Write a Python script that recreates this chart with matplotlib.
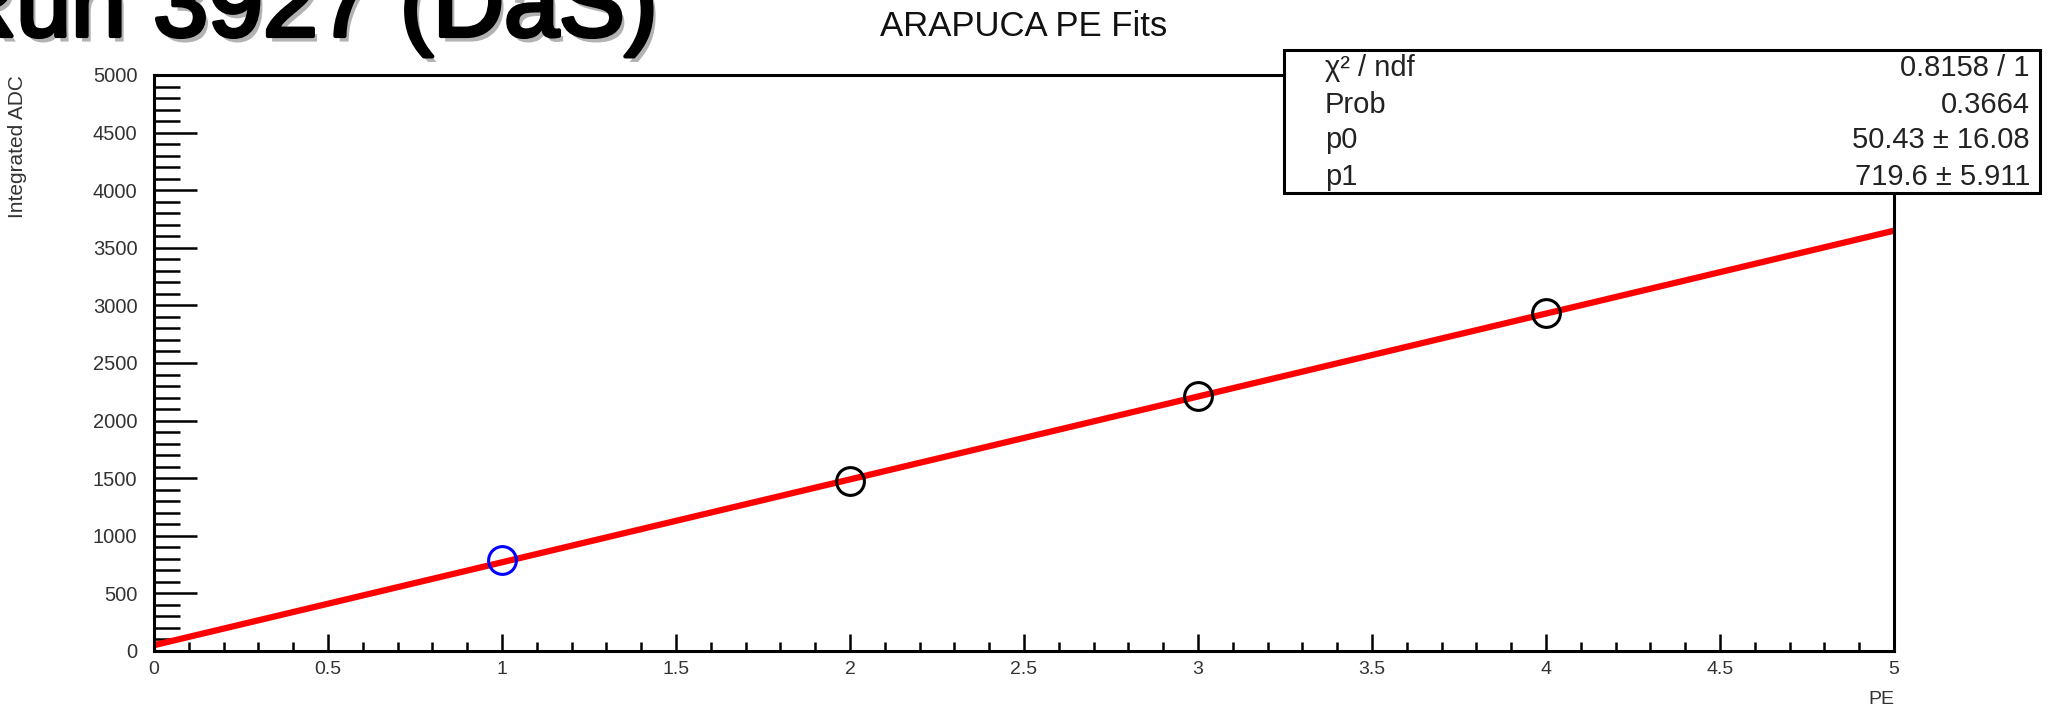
import numpy as np
import matplotlib
matplotlib.use("Agg")
import matplotlib.pyplot as plt
import matplotlib.patheffects as pe
from matplotlib.ticker import MultipleLocator

plt.rcParams["font.family"] = ["Liberation Sans", "DejaVu Sans"]

# data
pe_vals = [1, 2, 3, 4]
adc_vals = [790, 1480, 2210, 2930]
point_colors = ["blue", "black", "black", "black"]

# fit parameters from the stats box
p0 = 50.43
p1 = 719.6
stat_names = ["χ² / ndf", "Prob", "p0", "p1"]
stat_values = ["0.8158 / 1", "0.3664", "50.43 ± 16.08", "719.6 ± 5.911"]

W, H = 2063, 709
fig = plt.figure(figsize=(W / 100, H / 100), dpi=100)

# axes placement in pixels
left, right, top, bottom = 154, 1894, 75, 651
ax = fig.add_axes([left / W, 1 - bottom / H, (right - left) / W, (bottom - top) / H])

# fit line
fx = np.array([0.0, 5.0])
ax.plot(fx, p0 + p1 * fx, color="red", lw=4.5, solid_capstyle="butt", zorder=2)

for x, y, c in zip(pe_vals, adc_vals, point_colors):
    ax.plot(x, y, "o", mfc="none", mec=c, ms=20, mew=2.2, zorder=3)

ax.set_xlim(0, 5)
ax.set_ylim(0, 5000)
ax.xaxis.set_major_locator(MultipleLocator(0.5))
ax.xaxis.set_minor_locator(MultipleLocator(0.1))
ax.yaxis.set_major_locator(MultipleLocator(500))
ax.yaxis.set_minor_locator(MultipleLocator(100))
ax.xaxis.set_major_formatter(plt.FuncFormatter(lambda v, _: f"{v:g}"))

ax.tick_params(axis="x", which="major", direction="in", length=12, width=1.8,
               labelsize=14, pad=7, labelcolor="#333333")
ax.tick_params(axis="x", which="minor", direction="in", length=6.5, width=1.8)
ax.tick_params(axis="y", which="major", direction="in", length=31, width=1.8,
               labelsize=14.5, pad=12, labelcolor="#333333")
ax.tick_params(axis="y", which="minor", direction="in", length=19, width=1.8)
for s in ax.spines.values():
    s.set_linewidth(2.2)

fig.text(18 / W, 1 - top / H, "Integrated ADC", rotation=90, ha="center", va="top",
         fontsize=15, color="#333333")
fig.text(right / W, 1 - 700 / H, "PE", ha="right", va="center", fontsize=14,
         color="#333333")
fig.text(1024 / W, 1 - 26 / H, "ARAPUCA PE Fits", ha="center", va="center",
         fontsize=25, color="#111111")

# stats box
bx0, bx1, by0, by1 = 1284, 2040, 50, 193
box = plt.Rectangle((bx0 / W, 1 - by1 / H), (bx1 - bx0) / W, (by1 - by0) / H,
                    transform=fig.transFigure, facecolor="white", edgecolor="black",
                    lw=2.2, zorder=5)
fig.patches.append(box)
rows_y = [68, 105, 140, 177]
for name, val, ry in zip(stat_names, stat_values, rows_y):
    fig.text(1325 / W, 1 - ry / H, name, ha="left", va="center", fontsize=21,
             color="#222222", zorder=6)
    fig.text(2030 / W, 1 - ry / H, val, ha="right", va="center", fontsize=21,
             color="#222222", zorder=6)

# slide title, partly cut off at the top-left
fig.text(-55 / W, 1 - 36 / H, "Run 3927 (DaS)", ha="left", va="baseline",
         fontsize=71, color="black",
         path_effects=[pe.withSimplePatchShadow(offset=(3, -4), shadow_rgbFace="gray",
                                                alpha=0.6),
                       pe.Stroke(linewidth=3, foreground="black"),
                       pe.Normal()])

fig.savefig("out.png", dpi=100)
